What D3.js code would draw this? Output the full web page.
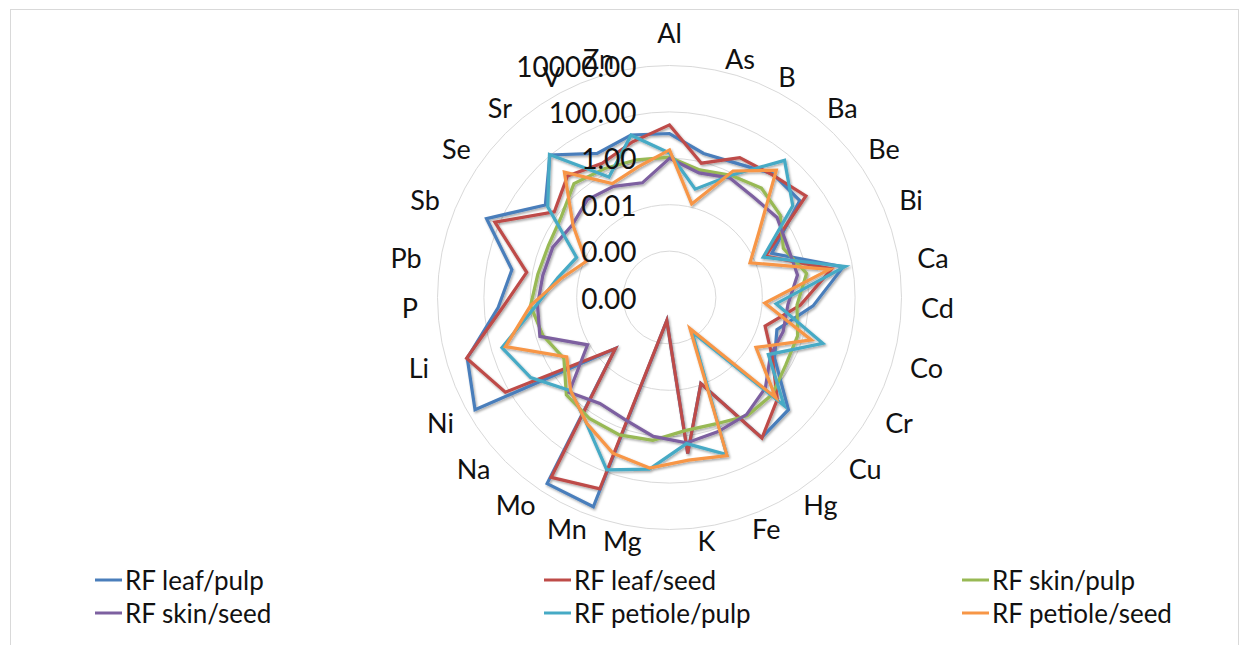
<!DOCTYPE html>
<html>
<head>
<meta charset="utf-8">
<script src="https://cdn.jsdelivr.net/npm/d3@7"></script>
<style>
  html, body { margin: 0; padding: 0; background: #ffffff; }
  svg { display: block; }
  text { font-family: Lato, "Open Sans", sans-serif; fill: #111111; }
</style>
</head>
<body>
<svg id="chart" width="1250" height="645"></svg>
<script>
// Elements on the radar spokes, clockwise from the top
const categories = ["Al","As","B","Ba","Be","Bi","Ca","Cd","Co","Cr","Cu","Hg","Fe","K",
                    "Mg","Mn","Mo","Na","Ni","Li","P","Pb","Sb","Se","Sr","V","Zn"];

// Radial (log) axis ticks and their printed labels
const tickValues = [0.000001, 0.0001, 0.01, 1, 100, 10000];
const tickLabels = ["0.00", "0.00", "0.01", "1.00", "100.00", "10000.00"];

// Resistance factors per element
const leafPulp    = [11.7, 2.4, 2.95, 8.9, 10, 0.063, 40, 1.58, 0.068, 0.17, 11.2, 17, 0.0089, 5.9,
                     0.00001, 3981, 3981, 0.0016, 4786, 1259, 25, 7.9, 389, 4.7, 105, 8.9, 15.8];
const leafSeed    = [27.5, 0.89, 5.6, 7.9, 21.4, 0.032, 12.6, 0.45, 0.02, 0.13, 2.45, 17.8, 0.0089, 5.9,
                     0.00001, 603, 1905, 0.0016, 148, 1349, 15.8, 1.78, 158, 1.55, 6.9, 2.95, 7.9];
const skinPulp    = [1.12, 0.45, 0.79, 1.45, 0.89, 0.22, 1.0, 0.32, 0.58, 0.62, 1.23, 1.26, 0.63, 0.6,
                     1.58, 2.0, 1.8, 1.3, 0.18, 0.5, 1.0, 0.58, 0.48, 0.66, 2.57, 1.66, 1.26];
const skinSeed    = [1.0, 0.33, 0.59, 0.44, 0.6, 0.35, 0.4, 0.13, 0.13, 0.105, 0.48, 1.1, 1.41, 2.04,
                     1.07, 0.4, 0.29, 0.89, 0.012, 0.68, 0.5, 0.35, 0.3, 0.17, 0.32, 0.23, 0.12];
const petiolePulp = [1.7, 0.063, 0.79, 52, 4.2, 0.025, 49, 0.04, 7.9, 0.083, 6.3, 0.00006, 15.8, 2.19,
                     28, 81, 3.2, 0.72, 8.1, 34.7, 0.56, 0.078, 0.023, 3.5, 112, 0.65, 15.5];
const petioleSeed = [2.3, 0.014, 1.26, 14.5, 0.068, 0.006, 10, 0.013, 2.4, 0.02, 2.0, 0.00004, 17.8, 11.5,
                     25, 13.8, 3.1, 0.72, 0.13, 24, 1.0, 0.055, 0.0083, 0.15, 11.2, 0.31, 0.63];

const seriesNames  = ["RF leaf/pulp", "RF leaf/seed", "RF skin/pulp", "RF skin/seed", "RF petiole/pulp", "RF petiole/seed"];
const seriesValues = [leafPulp, leafSeed, skinPulp, skinSeed, petiolePulp, petioleSeed];
const seriesColors = ["#4a7ebb", "#be4b48", "#98b954", "#7d60a0", "#46aac5", "#f79646"];

const svg = d3.select("#chart");
const cx = 669.5, cy = 297.5, R = 232;

// frame around the chart area
svg.append("rect")
  .attr("x", 10.5).attr("y", 9.5).attr("width", 1228).attr("height", 650)
  .attr("fill", "none").attr("stroke", "#d9d9d9").attr("stroke-width", 1);

const defs = svg.append("defs");
const shadow = defs.append("filter").attr("id", "soft").attr("x", "-10%").attr("y", "-10%")
  .attr("width", "120%").attr("height", "120%");
shadow.append("feDropShadow").attr("dx", 1.2).attr("dy", 1.6).attr("stdDeviation", 1.3)
  .attr("flood-color", "#000").attr("flood-opacity", 0.35);

const r = d3.scaleLog().domain([tickValues[0], tickValues[tickValues.length - 1]]).range([0, R]);
const angle = d3.scaleLinear().domain([0, categories.length]).range([0, 2 * Math.PI]);

const g = svg.append("g").attr("transform", `translate(${cx},${cy})`);

// circular gridlines
g.append("g").selectAll("circle")
  .data(tickValues.slice(1))
  .join("circle")
  .attr("r", d => r(d))
  .attr("fill", "none")
  .attr("stroke", "#d9d9d9")
  .attr("stroke-width", 1);

// series polygons
const line = d3.lineRadial()
  .angle((d, i) => angle(i))
  .radius(d => r(d))
  .curve(d3.curveLinearClosed);

g.append("g").attr("filter", "url(#soft)")
  .selectAll("path")
  .data(seriesValues)
  .join("path")
  .attr("d", d => line(d))
  .attr("fill", "none")
  .attr("stroke", (d, i) => seriesColors[i])
  .attr("stroke-width", 3.2)
  .attr("stroke-linejoin", "miter");

// radial axis labels
g.append("g").selectAll("text")
  .data(tickValues)
  .join("text")
  .attr("x", -33)
  .attr("y", d => -r(d))
  .attr("text-anchor", "end")
  .attr("dominant-baseline", "central")
  .attr("font-size", 28)
  .text((d, i) => tickLabels[i]);

// element labels around the outside: left-aligned on the right half,
// right-aligned on the left half, centred straight above the top spoke
const catText = g.append("g").selectAll("text")
  .data(categories)
  .join("text")
  .attr("font-size", 27)
  .attr("dominant-baseline", "central")
  .text(d => d);

catText.each(function(d, i) {
  const a = angle(i);
  const s = Math.sin(a), c = Math.cos(a);
  const ra = 240 + 12 * s * s;
  const el = d3.select(this);
  if (Math.abs(s) < 0.05) {
    el.attr("text-anchor", "middle").attr("x", 0).attr("y", -(ra + 25) * c);
  } else {
    el.attr("text-anchor", s > 0 ? "start" : "end")
      .attr("x", ra * s)
      .attr("y", -ra * c - 10 * c + (c > 0 ? 5 : -5));
  }
});

// legend: three columns, two rows
const legendCols = [95, 544, 962];
const legendRows = [580, 613];
const legend = svg.append("g").selectAll("g")
  .data(seriesNames)
  .join("g")
  .attr("transform", (d, i) => `translate(${legendCols[i % 3]},${legendRows[Math.floor(i / 3)]})`);

legend.append("line")
  .attr("x1", 0).attr("x2", 27).attr("y1", 0).attr("y2", 0)
  .attr("stroke", (d, i) => seriesColors[i])
  .attr("stroke-width", 3);

legend.append("text")
  .attr("x", 30).attr("y", 0)
  .attr("dominant-baseline", "central")
  .attr("font-size", 26)
  .text(d => d);
</script>
</body>
</html>
